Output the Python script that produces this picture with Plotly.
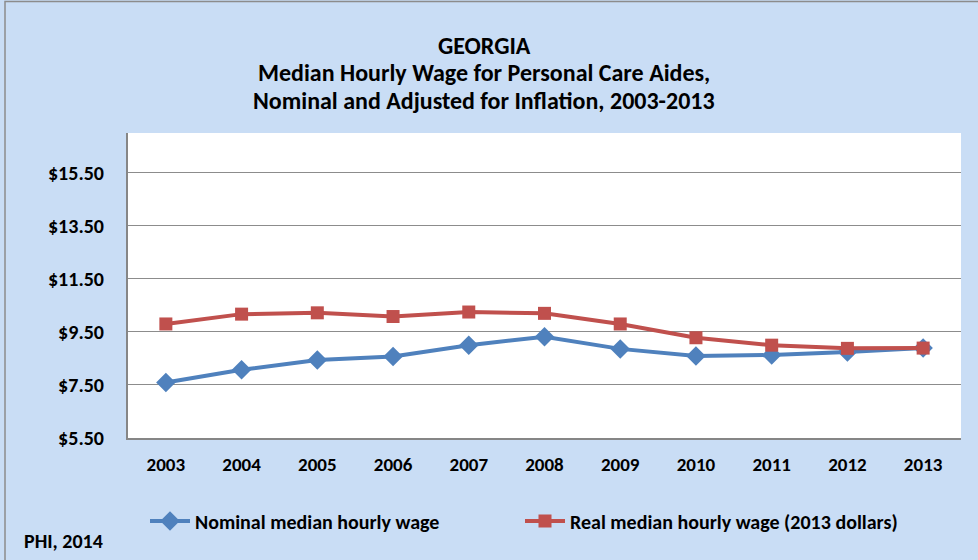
import plotly.graph_objects as go

years = ["2003", "2004", "2005", "2006", "2007", "2008", "2009", "2010", "2011", "2012", "2013"]
nominal = [7.59, 8.07, 8.44, 8.57, 9.00, 9.32, 8.86, 8.59, 8.63, 8.74, 8.89]
real = [9.80, 10.17, 10.22, 10.08, 10.25, 10.20, 9.80, 9.28, 9.00, 8.88, 8.89]
y_ticks = [5.5, 7.5, 9.5, 11.5, 13.5, 15.5]
y_labels = ["$5.50", "$7.50", "$9.50", "$11.50", "$13.50", "$15.50"]
title_lines = [
    "GEORGIA",
    "Median Hourly Wage for Personal Care Aides,",
    "Nominal and Adjusted for Inflation, 2003-2013",
]

FONT = "Carlito, Lato, sans-serif"
BLUE = "#4F81BD"
RED = "#C0504D"

fig = go.Figure()
fig.add_trace(go.Scatter(
    x=years, y=nominal, mode="lines+markers", name="Nominal median hourly wage",
    line=dict(color=BLUE, width=4),
    marker=dict(symbol="diamond", size=15, color=BLUE),
    legend="legend",
))
fig.add_trace(go.Scatter(
    x=years, y=real, mode="lines+markers", name="Real median hourly wage (2013 dollars)",
    line=dict(color=RED, width=4),
    marker=dict(symbol="square", size=13, color=RED),
    legend="legend2",
))

legend_common = dict(
    orientation="h", xanchor="left", yanchor="middle", y=-(521 - 438) / 305,
    bgcolor="rgba(0,0,0,0)",
    font=dict(family=FONT, size=20, color="#000000", weight="bold"),
    itemwidth=40,
)

fig.update_layout(
    width=978, height=560,
    paper_bgcolor="#C9DDF5",
    plot_bgcolor="#FFFFFF",
    margin=dict(l=128, r=17, t=133, b=122),
    font=dict(family=FONT, size=16, color="#000000"),
    xaxis=dict(
        type="category", range=[-0.5, 10.5], showgrid=False, showline=True,
        linecolor="#868686", linewidth=2,
        ticks="", tickfont=dict(family=FONT, size=19, color="#000000", weight="bold"),
        ticklabelstandoff=8,
    ),
    yaxis=dict(
        range=[5.5, 17.0], tickvals=y_ticks, ticktext=y_labels,
        showgrid=True, gridcolor="#8C8C8C", gridwidth=1,
        showline=True, linecolor="#868686", linewidth=2, zeroline=False,
        ticks="", tickfont=dict(family=FONT, size=20, color="#000000", weight="bold"),
        ticklabelstandoff=18,
    ),
    legend=dict(x=(145 - 128) / 833, **legend_common),
    legend2=dict(x=(520 - 128) / 833, **legend_common),
    showlegend=True,
)

for line, ypx in zip(title_lines, [45, 72, 100]):
    fig.add_annotation(
        text=f"<b>{line}</b>", xref="paper", yref="paper",
        x=(484 - 128) / 833, xanchor="center", y=(438 - ypx) / 305, yanchor="middle",
        showarrow=False, font=dict(family=FONT, size=24, color="#000000"),
    )

fig.add_annotation(
    text="<b>PHI, 2014</b>", xref="paper", yref="paper",
    x=-(128 - 22) / 833, xanchor="left", y=-(541 - 438) / 305, yanchor="middle",
    showarrow=False, font=dict(family=FONT, size=20, color="#000000"),
)

fig.add_shape(
    type="rect", xref="paper", yref="paper",
    x0=-(128 - 5) / 833, x1=(978 + 5 - 128) / 833, y0=-(565 - 438) / 305, y1=(438 - 1.5) / 305,
    line=dict(color="#8C8C8C", width=1.5), fillcolor="rgba(0,0,0,0)", layer="below",
)

fig.write_html("out.html", post_script="document.body.style.margin='0';",
               config={"displayModeBar": False})
